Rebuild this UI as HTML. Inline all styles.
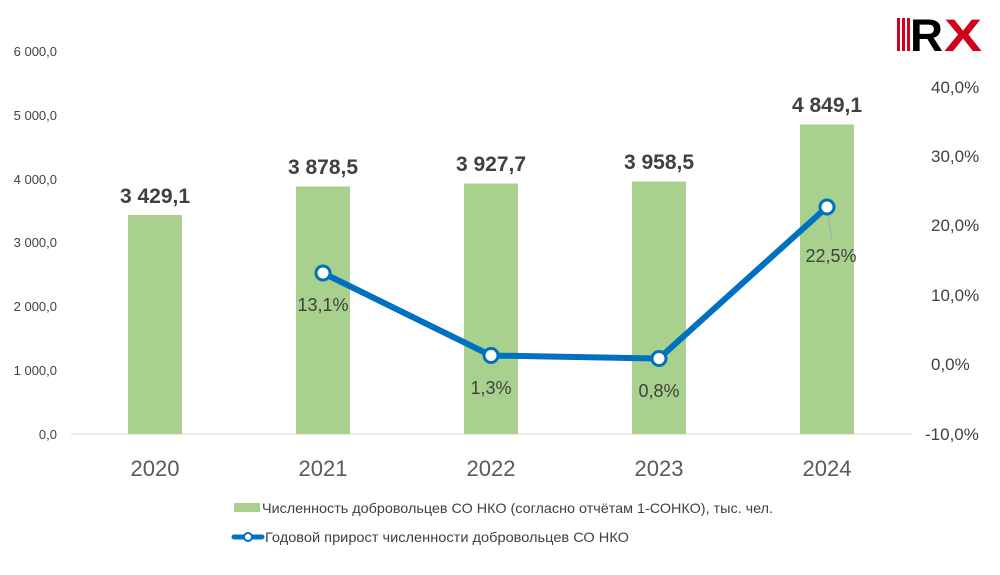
<!DOCTYPE html>
<html><head><meta charset="utf-8"><style>
body{margin:0;background:#fff;}
svg text{font-family:"Liberation Sans",sans-serif;}
</style></head><body>
<svg width="1000" height="570" viewBox="0 0 1000 570">
<g fill="#404040" font-size="13" text-anchor="end">
<text x="57" y="56">6 000,0</text>
<text x="57" y="120">5 000,0</text>
<text x="57" y="184">4 000,0</text>
<text x="57" y="247">3 000,0</text>
<text x="57" y="311">2 000,0</text>
<text x="57" y="375">1 000,0</text>
<text x="57" y="439">0,0</text>
</g>
<g fill="#404040" font-size="17" text-anchor="start">
<text x="931" y="93">40,0%</text>
<text x="931" y="162">30,0%</text>
<text x="931" y="231">20,0%</text>
<text x="931" y="301">10,0%</text>
<text x="931" y="370">0,0%</text>
<text x="925" y="440">-10,0%</text>
</g>
<line x1="71" y1="434" x2="912" y2="434" stroke="#d9d9d9" stroke-width="1"/>
<g fill="#a9d18e">
<rect x="128" y="215" width="54" height="219"/>
<rect x="296" y="186.5" width="54" height="247.5"/>
<rect x="464" y="183.5" width="54" height="250.5"/>
<rect x="632" y="181.5" width="54" height="252.5"/>
<rect x="800" y="124.5" width="54" height="309.5"/>
</g>
<g fill="#404040" font-size="21" font-weight="bold" text-anchor="middle">
<text x="155" y="203">3 429,1</text>
<text x="323" y="174">3 878,5</text>
<text x="491" y="171">3 927,7</text>
<text x="659" y="169">3 958,5</text>
<text x="827" y="112">4 849,1</text>
</g>
<line x1="827" y1="208" x2="832" y2="240" stroke="#a6a6a6" stroke-width="1"/>
<polyline points="323,273 491,355.5 659,358.5 827,207" fill="none" stroke="#0070c0" stroke-width="6" stroke-linejoin="round"/>
<g fill="#fff" stroke="#0070c0" stroke-width="3">
<circle cx="323" cy="273" r="7"/><circle cx="491" cy="355.5" r="7"/><circle cx="659" cy="358.5" r="7"/><circle cx="827" cy="207" r="7"/>
</g>
<g fill="#404040" font-size="18" text-anchor="middle">
<text x="323" y="311">13,1%</text>
<text x="491" y="394">1,3%</text>
<text x="659" y="397">0,8%</text>
<text x="831" y="262">22,5%</text>
</g>
<g fill="#595959" font-size="22" text-anchor="middle">
<text x="155" y="476">2020</text><text x="323" y="476">2021</text><text x="491" y="476">2022</text><text x="659" y="476">2023</text><text x="827" y="476">2024</text>
</g>
<rect x="234" y="503" width="26" height="9" fill="#a9d18e"/>
<text x="262" y="513" font-size="14" fill="#404040" textLength="511" lengthAdjust="spacingAndGlyphs">Численность добровольцев СО НКО (согласно отчётам 1-СОНКО), тыс. чел.</text>
<line x1="234" y1="537" x2="262" y2="537" stroke="#0070c0" stroke-width="5" stroke-linecap="round"/>
<circle cx="248" cy="537" r="4" fill="#fff" stroke="#0070c0" stroke-width="2"/>
<text x="265" y="542" font-size="14" fill="#404040" textLength="364" lengthAdjust="spacingAndGlyphs">Годовой прирост численности добровольцев СО НКО</text>
<g>
<rect x="897" y="18" width="3" height="33" fill="#d0021b"/>
<rect x="902" y="18" width="3" height="33" fill="#d0021b"/>
<rect x="907" y="18" width="3" height="33" fill="#d0021b"/>
<text x="910" y="51" font-size="45" font-weight="bold" fill="#000" textLength="33" lengthAdjust="spacingAndGlyphs">R</text>
<text x="944" y="51" font-size="45" font-weight="bold" fill="#d0021b" textLength="38" lengthAdjust="spacingAndGlyphs">X</text>
</g>
</svg>
</body></html>
